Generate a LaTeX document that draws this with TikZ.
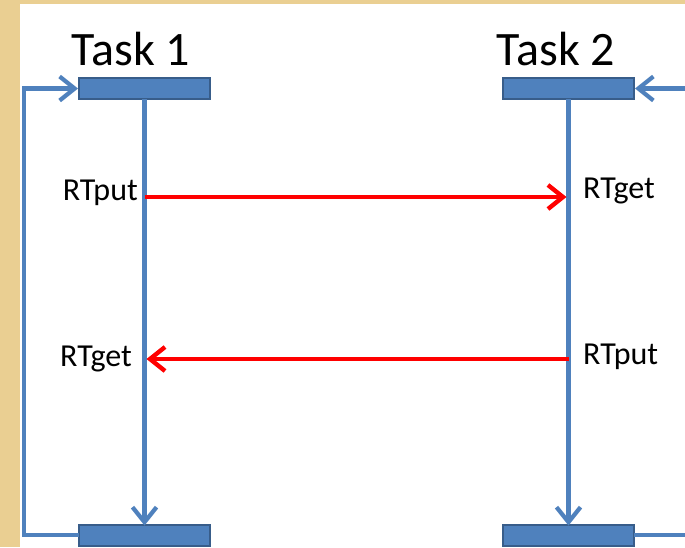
\documentclass[tikz,border=0pt]{standalone}
\usepackage{fontspec}
\setmainfont{Carlito}
\usetikzlibrary{arrows.meta}
\definecolor{parch}{RGB}{234,207,146}
\definecolor{barfill}{RGB}{79,129,189}
\definecolor{barline}{RGB}{56,93,138}
\definecolor{flow}{RGB}{79,129,189}
\definecolor{msg}{RGB}{255,0,0}
\tikzset{
  taskbar/.style={draw=barline, line width=2pt, fill=barfill, minimum width=131pt,
    minimum height=21pt, inner sep=0pt, outer sep=0pt},
  flowline/.style={draw=flow, line width=4.2pt},
  flowtip/.style={-{Straight Barb[length=15pt, width=24pt, line width=4.2pt]}},
  flowarrow/.style={flowline, flowtip},
  msgarrow/.style={draw=msg, line width=4.4pt, -{Straight Barb[length=15pt, width=24pt, line width=4.4pt]}},
  tasklabel/.style={font=\fontsize{48}{52}\selectfont, anchor=base, inner sep=0pt},
  calllabel/.style={font=\fontsize{32}{36}\selectfont, inner sep=0pt}
}
\begin{document}
\begin{tikzpicture}[x=1pt, y=-1pt]
  % page: parchment edge with white sheet on top
  \useasboundingbox (0,0) rectangle (685,547);
  \fill[parch] (0,0) rectangle (685,547);
  \fill[white] (20,4) rectangle (685,547);

  % task titles
  \node[tasklabel] (title1) at (131,65) {Task 1};
  \node[tasklabel] (title2) at (556,65) {Task 2};

  % start and end bars of each task
  \node[taskbar] (t1top) at (144.5,88.5) {};
  \node[taskbar] (t2top) at (568.5,88.5) {};
  \node[taskbar] (t1bot) at (144.5,535) {};
  \node[taskbar] (t2bot) at (568.5,535) {};

  % task timelines
  \draw[flowarrow] (t1top.south) -- ([yshift=-1pt]t1bot.north);
  \draw[flowarrow] (t2top.south) -- ([yshift=-1pt]t2bot.north);

  % loop back for task 1
  \coordinate (loopL) at (24,535);
  \draw[flowarrow] (t1bot.west) -- (loopL) |- ([xshift=-1pt]t1top.west);

  % loop for task 2, leaving and entering at the right
  \coordinate (inR) at (690,88.5);
  \coordinate (outR) at (690,535);
  \draw[flowarrow] (inR) -- ([xshift=1pt]t2top.east);
  \draw[flowline] (t2bot.east) -- (outR);

  % message points on the timelines
  \coordinate (put1) at (144.5,197);
  \coordinate (get2) at (568.5,197);
  \coordinate (put2) at (568.5,359);
  \coordinate (get1) at (144.5,359);
  \draw[msgarrow] (put1) -- ([xshift=-2pt]get2);
  \draw[msgarrow] (put2) -- ([xshift=2pt]get1);

  % call labels
  \node[calllabel, anchor=base east] (lput1) at (138,200) {RTput};
  \node[calllabel, anchor=base west] (lget2) at (583,198) {RTget};
  \node[calllabel, anchor=base east] (lget1) at (132,366) {RTget};
  \node[calllabel, anchor=base west] (lput2) at (583,364) {RTput};
\end{tikzpicture}
\end{document}
